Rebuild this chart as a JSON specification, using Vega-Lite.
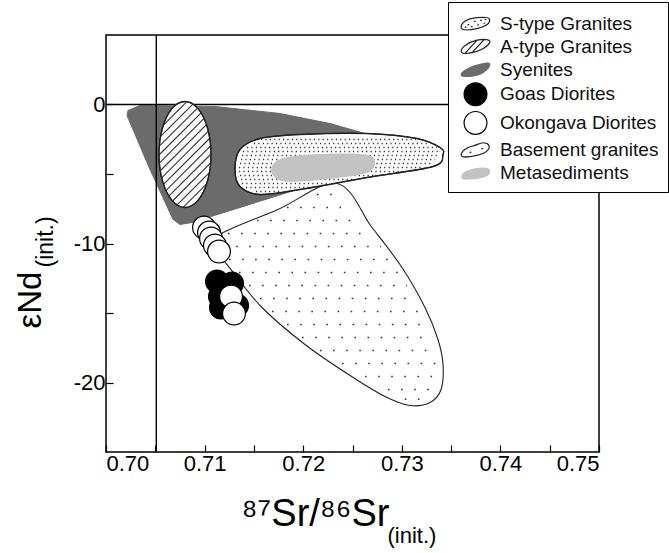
{
  "$schema": "https://vega.github.io/schema/vega-lite/v6.json",
  "width": 493,
  "height": 417,
  "autosize": "none",
  "padding": {"left": 106, "top": 35, "right": 70, "bottom": 101},
  "background": "white",
  "resolve": {"axis": {"x": "independent", "y": "independent"}},
  "datasets": {
    "syenite": [
      {"i": 1, "x": 0.70223, "y": -0.432}, {"i": 2, "x": 0.70345, "y": -0.072}, {"i": 3, "x": 0.71105, "y": -0.144},
      {"i": 4, "x": 0.71765, "y": -0.647}, {"i": 5, "x": 0.72272, "y": -1.367}, {"i": 6, "x": 0.72627, "y": -2.086},
      {"i": 7, "x": 0.7283, "y": -3.237}, {"i": 8, "x": 0.72576, "y": -4.317}, {"i": 9, "x": 0.72069, "y": -5.827},
      {"i": 10, "x": 0.71359, "y": -7.41}, {"i": 11, "x": 0.70872, "y": -8.489}, {"i": 12, "x": 0.70751, "y": -8.633},
      {"i": 13, "x": 0.7068, "y": -8.273}, {"i": 14, "x": 0.70446, "y": -4.676}, {"i": 15, "x": 0.70213, "y": -0.791}
    ],
    "atype": [
      {"i": 1, "x": 0.710649, "y": -3.597}, {"i": 2, "x": 0.710296, "y": -1.691}, {"i": 3, "x": 0.70933, "y": -0.295},
      {"i": 4, "x": 0.708012, "y": 0.216}, {"i": 5, "x": 0.706694, "y": -0.295}, {"i": 6, "x": 0.705728, "y": -1.691},
      {"i": 7, "x": 0.705375, "y": -3.597}, {"i": 8, "x": 0.705728, "y": -5.503}, {"i": 9, "x": 0.706694, "y": -6.899},
      {"i": 10, "x": 0.708012, "y": -7.41}, {"i": 11, "x": 0.70933, "y": -6.899}, {"i": 12, "x": 0.710296, "y": -5.503}
    ],
    "hatch": [
      {"x": 0.708201, "y": 0.206, "x2": 0.705816, "y2": -1.486},
      {"x": 0.708819, "y": 0.033, "x2": 0.705533, "y2": -2.298},
      {"x": 0.709279, "y": -0.253, "x2": 0.705408, "y2": -2.999},
      {"x": 0.709646, "y": -0.604, "x2": 0.705375, "y2": -3.633},
      {"x": 0.709945, "y": -1.003, "x2": 0.705411, "y2": -4.219},
      {"x": 0.710188, "y": -1.442, "x2": 0.705502, "y2": -4.766},
      {"x": 0.710379, "y": -1.918, "x2": 0.705645, "y2": -5.276},
      {"x": 0.710522, "y": -2.428, "x2": 0.705837, "y2": -5.752},
      {"x": 0.710614, "y": -2.975, "x2": 0.706079, "y2": -6.191},
      {"x": 0.710649, "y": -3.561, "x2": 0.706378, "y2": -6.591},
      {"x": 0.710617, "y": -4.196, "x2": 0.706745, "y2": -6.942},
      {"x": 0.710491, "y": -4.896, "x2": 0.707205, "y2": -7.227},
      {"x": 0.710208, "y": -5.709, "x2": 0.707823, "y2": -7.4}
    ],
    "stype": [
      {"i": 1, "x": 0.71308, "y": -4.676}, {"i": 2, "x": 0.71359, "y": -3.237}, {"i": 3, "x": 0.71562, "y": -2.446},
      {"i": 4, "x": 0.71968, "y": -2.158}, {"i": 5, "x": 0.72647, "y": -2.086}, {"i": 6, "x": 0.73154, "y": -2.446},
      {"i": 7, "x": 0.73387, "y": -3.094}, {"i": 8, "x": 0.73418, "y": -3.597}, {"i": 9, "x": 0.73316, "y": -4.46},
      {"i": 10, "x": 0.72647, "y": -5.252}, {"i": 11, "x": 0.71968, "y": -6.115}, {"i": 12, "x": 0.71562, "y": -6.475},
      {"i": 13, "x": 0.71359, "y": -5.899}
    ],
    "stipple": [
      {"x": 0.71572, "y": -2.518, "x2": 0.73154, "y2": -2.518},
      {"x": 0.71501, "y": -2.806, "x2": 0.73256, "y2": -2.806},
      {"x": 0.7143, "y": -3.094, "x2": 0.73357, "y2": -3.094},
      {"x": 0.71389, "y": -3.381, "x2": 0.73367, "y2": -3.381},
      {"x": 0.71379, "y": -3.669, "x2": 0.73367, "y2": -3.669},
      {"x": 0.71369, "y": -3.957, "x2": 0.73337, "y2": -3.957},
      {"x": 0.71359, "y": -4.245, "x2": 0.73306, "y2": -4.245},
      {"x": 0.71349, "y": -4.532, "x2": 0.73215, "y2": -4.532},
      {"x": 0.71349, "y": -4.82, "x2": 0.72982, "y2": -4.82},
      {"x": 0.71359, "y": -5.108, "x2": 0.72738, "y2": -5.108},
      {"x": 0.71369, "y": -5.396, "x2": 0.72495, "y2": -5.396},
      {"x": 0.71379, "y": -5.683, "x2": 0.72272, "y2": -5.683},
      {"x": 0.7142, "y": -5.971, "x2": 0.72049, "y2": -5.971},
      {"x": 0.71521, "y": -6.259, "x2": 0.71775, "y2": -6.259}
    ],
    "meta": [
      {"i": 1, "x": 0.71684, "y": -4.676}, {"i": 2, "x": 0.71785, "y": -3.957}, {"i": 3, "x": 0.72069, "y": -3.669},
      {"i": 4, "x": 0.72475, "y": -3.597}, {"i": 5, "x": 0.72677, "y": -3.741}, {"i": 6, "x": 0.72718, "y": -4.245},
      {"i": 7, "x": 0.72657, "y": -4.82}, {"i": 8, "x": 0.72373, "y": -5.18}, {"i": 9, "x": 0.71968, "y": -5.468},
      {"i": 10, "x": 0.71765, "y": -5.396}
    ],
    "basement": [
      {"i": 1, "x": 0.71136, "y": -9.424}, {"i": 2, "x": 0.71744, "y": -7.554}, {"i": 3, "x": 0.72343, "y": -5.683},
      {"i": 4, "x": 0.72698, "y": -8.849}, {"i": 5, "x": 0.73002, "y": -11.727}, {"i": 6, "x": 0.73235, "y": -14.604},
      {"i": 7, "x": 0.73367, "y": -16.906}, {"i": 8, "x": 0.73418, "y": -18.705}, {"i": 9, "x": 0.73398, "y": -20.504},
      {"i": 10, "x": 0.73286, "y": -21.439}, {"i": 11, "x": 0.73083, "y": -21.655}, {"i": 12, "x": 0.7283, "y": -21.007},
      {"i": 13, "x": 0.72475, "y": -19.496}, {"i": 14, "x": 0.72018, "y": -17.266}, {"i": 15, "x": 0.71582, "y": -14.604},
      {"i": 16, "x": 0.71308, "y": -12.23}, {"i": 17, "x": 0.71136, "y": -10.576}
    ],
    "bdots": [
      {"x": 0.7214, "y": -6.475, "x2": 0.72383, "y2": -6.475},
      {"x": 0.71836, "y": -7.41, "x2": 0.72485, "y2": -7.41},
      {"x": 0.71531, "y": -8.345, "x2": 0.72586, "y2": -8.345},
      {"x": 0.71237, "y": -9.281, "x2": 0.72688, "y2": -9.281},
      {"x": 0.71187, "y": -10.216, "x2": 0.72789, "y2": -10.216},
      {"x": 0.71247, "y": -11.151, "x2": 0.7289, "y2": -11.151},
      {"x": 0.71349, "y": -12.086, "x2": 0.72982, "y2": -12.086},
      {"x": 0.7145, "y": -13.022, "x2": 0.73053, "y2": -13.022},
      {"x": 0.71562, "y": -13.957, "x2": 0.73134, "y2": -13.957},
      {"x": 0.71684, "y": -14.892, "x2": 0.73205, "y2": -14.892},
      {"x": 0.71836, "y": -15.827, "x2": 0.73256, "y2": -15.827},
      {"x": 0.71988, "y": -16.763, "x2": 0.73306, "y2": -16.763},
      {"x": 0.7217, "y": -17.698, "x2": 0.73337, "y2": -17.698},
      {"x": 0.72394, "y": -18.633, "x2": 0.73367, "y2": -18.633},
      {"x": 0.72627, "y": -19.568, "x2": 0.73347, "y2": -19.568},
      {"x": 0.7286, "y": -20.504, "x2": 0.73327, "y2": -20.504},
      {"x": 0.7303, "y": -21.2, "x2": 0.73205, "y2": -21.2}
    ],
    "points": [
      {"group": "Goas Diorites", "x": 0.71126, "y": -12.73},
      {"group": "Goas Diorites", "x": 0.71278, "y": -12.88},
      {"group": "Goas Diorites", "x": 0.71217, "y": -13.3},
      {"group": "Goas Diorites", "x": 0.71156, "y": -13.81},
      {"group": "Goas Diorites", "x": 0.71329, "y": -14.46},
      {"group": "Goas Diorites", "x": 0.71166, "y": -14.6},
      {"group": "Okongava Diorites", "x": 0.70994, "y": -8.85},
      {"group": "Okongava Diorites", "x": 0.71045, "y": -9.21},
      {"group": "Okongava Diorites", "x": 0.71065, "y": -9.64},
      {"group": "Okongava Diorites", "x": 0.71105, "y": -10.14},
      {"group": "Okongava Diorites", "x": 0.71146, "y": -10.58},
      {"group": "Okongava Diorites", "x": 0.71268, "y": -13.81},
      {"group": "Okongava Diorites", "x": 0.71298, "y": -15.04}
    ],
    "refx": [{"x": 0.7051}],
    "refy": [{"y": 0}]
  },
  "layer": [
    {
      "data": {"name": "syenite"},
      "mark": {"type": "line", "interpolate": "linear-closed", "fill": "#6b6b6b", "stroke": "#6b6b6b", "strokeWidth": 1},
      "encoding": {
        "x": {"field": "x", "type": "quantitative",
          "scale": {"domain": [0.70, 0.75], "nice": false, "zero": false},
          "axis": {
            "orient": "bottom",
            "title": "⁸⁷Sr/⁸⁶Sr", "titleX": 135, "titleY": 73, "titleAlign": "left", "titleBaseline": "alphabetic", "titleFontSize": 38,
            "values": [0.70, 0.705, 0.71, 0.715, 0.72, 0.725, 0.73, 0.735, 0.74, 0.745, 0.75],
            "labelExpr": "round(datum.value*1000) % 10 == 0 ? format(datum.value, '.2f') : ''",
            "tickSize": -7, "labelPadding": 8, "labelFontSize": 22
          }
        },
        "y": {"field": "y", "type": "quantitative",
          "scale": {"domain": [-25, 5], "nice": false, "zero": false},
          "axis": {
            "orient": "left",
            "title": "εNd", "titleX": -66, "titleY": 293, "titleAngle": -90, "titleAlign": "left", "titleBaseline": "alphabetic", "titleFontSize": 33,
            "values": [-20, -15, -10, -5, 0],
            "labelExpr": "datum.value % 10 == 0 ? '' + datum.value : ''",
            "tickSize": -7, "labelPadding": 8, "labelFontSize": 22
          }
        },
        "order": {"field": "i", "type": "quantitative"}
      }
    },
    {
      "data": {"name": "refx"},
      "mark": {"type": "rule", "color": "black", "strokeWidth": 1.4},
      "encoding": {"x": {"field": "x", "type": "quantitative", "axis": null}}
    },
    {
      "data": {"name": "refy"},
      "mark": {"type": "rule", "color": "black", "strokeWidth": 1.4},
      "encoding": {"y": {"field": "y", "type": "quantitative", "axis": null}}
    },
    {
      "data": {"name": "basement"},
      "mark": {"type": "line", "interpolate": "cardinal-closed", "fill": "white", "stroke": "#222", "strokeWidth": 1.1},
      "encoding": {
        "x": {"field": "x", "type": "quantitative",
          "axis": {"orient": "bottom", "domain": false, "ticks": false, "labels": false,
            "title": "(init.)", "titleX": 281, "titleY": 90, "titleAlign": "left", "titleBaseline": "alphabetic", "titleFontSize": 22}
        },
        "y": {"field": "y", "type": "quantitative", "axis": null},
        "order": {"field": "i", "type": "quantitative"}
      }
    },
    {
      "data": {"name": "bdots"},
      "mark": {"type": "rule", "color": "#333", "strokeWidth": 1.6, "strokeDash": [1.6, 11.5]},
      "encoding": {
        "x": {"field": "x", "type": "quantitative", "axis": null},
        "y": {"field": "y", "type": "quantitative", "axis": null},
        "x2": {"field": "x2"},
        "y2": {"field": "y2"}
      }
    },
    {
      "data": {"name": "atype"},
      "mark": {"type": "line", "interpolate": "cardinal-closed", "fill": "white", "stroke": "#222", "strokeWidth": 1.1},
      "encoding": {
        "x": {"field": "x", "type": "quantitative", "axis": null},
        "y": {"field": "y", "type": "quantitative",
          "axis": {"orient": "left", "domain": false, "ticks": false, "labels": false,
            "title": "(init.)", "titleX": -54, "titleY": 232, "titleAngle": -90, "titleAlign": "left", "titleBaseline": "alphabetic", "titleFontSize": 23}
        },
        "order": {"field": "i", "type": "quantitative"}
      }
    },
    {
      "data": {"name": "hatch"},
      "mark": {"type": "rule", "color": "#333", "strokeWidth": 1.1},
      "encoding": {
        "x": {"field": "x", "type": "quantitative", "axis": null},
        "y": {"field": "y", "type": "quantitative", "axis": null},
        "x2": {"field": "x2"},
        "y2": {"field": "y2"}
      }
    },
    {
      "data": {"name": "atype"},
      "mark": {"type": "line", "interpolate": "cardinal-closed", "stroke": "#222", "strokeWidth": 1.3},
      "encoding": {
        "x": {"field": "x", "type": "quantitative", "axis": null},
        "y": {"field": "y", "type": "quantitative", "axis": null},
        "order": {"field": "i", "type": "quantitative"}
      }
    },
    {
      "data": {"name": "stype"},
      "mark": {"type": "line", "interpolate": "cardinal-closed", "fill": "white", "stroke": "#222", "strokeWidth": 1.1},
      "encoding": {
        "x": {"field": "x", "type": "quantitative", "axis": null},
        "y": {"field": "y", "type": "quantitative", "axis": null},
        "order": {"field": "i", "type": "quantitative"}
      }
    },
    {
      "data": {"name": "stipple"},
      "mark": {"type": "rule", "color": "#333", "strokeWidth": 1.3, "strokeDash": [1.2, 3.2]},
      "encoding": {
        "x": {"field": "x", "type": "quantitative", "axis": null},
        "y": {"field": "y", "type": "quantitative", "axis": null},
        "x2": {"field": "x2"},
        "y2": {"field": "y2"}
      }
    },
    {
      "data": {"name": "meta"},
      "mark": {"type": "line", "interpolate": "cardinal-closed", "fill": "#c2c2c2", "stroke": "#c2c2c2", "strokeWidth": 2},
      "encoding": {
        "x": {"field": "x", "type": "quantitative", "axis": null},
        "y": {"field": "y", "type": "quantitative", "axis": null},
        "order": {"field": "i", "type": "quantitative"}
      }
    },
    {
      "data": {"name": "stype"},
      "mark": {"type": "line", "interpolate": "cardinal-closed", "stroke": "#222", "strokeWidth": 1.4},
      "encoding": {
        "x": {"field": "x", "type": "quantitative", "axis": null},
        "y": {"field": "y", "type": "quantitative", "axis": null},
        "order": {"field": "i", "type": "quantitative"}
      }
    },
    {
      "data": {"name": "points"},
      "mark": {"type": "point", "filled": true, "opacity": 1, "strokeWidth": 1.2},
      "encoding": {
        "x": {"field": "x", "type": "quantitative", "axis": null},
        "y": {"field": "y", "type": "quantitative", "axis": null},
        "fill": {"field": "group", "type": "nominal",
          "scale": {
            "domain": ["S-type Granites", "A-type Granites", "Syenites", "Goas Diorites", "Okongava Diorites", "Basement granites", "Metasediments"],
            "range": ["white", "white", "#6b6b6b", "black", "white", "white", "#c2c2c2"]
          },
          "legend": {
            "title": null, "orient": "none", "legendX": 342, "legendY": -33,
            "padding": 9, "strokeColor": "black", "fillColor": "white",
            "labelFont": "Liberation Sans", "labelFontSize": 19, "labelColor": "#111",
            "rowPadding": -0.3, "symbolOffset": 6, "labelOffset": 12, "symbolStrokeWidth": 1.2
          }
        },
        "stroke": {"field": "group", "type": "nominal",
          "scale": {
            "domain": ["S-type Granites", "A-type Granites", "Syenites", "Goas Diorites", "Okongava Diorites", "Basement granites", "Metasediments"],
            "range": ["#222", "#222", "#6b6b6b", "black", "black", "#222", "#c2c2c2"]
          }
        },
        "shape": {"field": "group", "type": "nominal",
          "scale": {
            "domain": ["S-type Granites", "A-type Granites", "Syenites", "Goas Diorites", "Okongava Diorites", "Basement granites", "Metasediments"],
            "range": [
              "M-1.25,0.4C-1.35,-0.05 -0.7,-0.45 0,-0.5C0.65,-0.55 1.3,-0.62 1.25,-0.22C1.18,0.12 0.65,0.33 0.12,0.45C-0.4,0.56 -1.12,0.66 -1.25,0.4Z M-0.7,0.1h0.15 M-0.15,-0.18h0.15 M0.4,-0.28h0.15 M0.8,-0.35h0.15 M-0.4,0.28h0.15 M0.15,0.12h0.15 M-0.95,0.32h0.15 M0.7,-0.02h0.15",
              "M-1.25,0.45C-1.3,0.12 -0.65,-0.38 0.12,-0.56C0.8,-0.7 1.38,-0.62 1.25,-0.34C1.12,-0.06 0.52,0.34 -0.13,0.5C-0.65,0.63 -1.18,0.68 -1.25,0.45Z M-0.9,0.58L0.12,-0.53 M-0.25,0.47L0.78,-0.62",
              "M-1.25,0.5C-1.25,0.22 -0.65,-0.12 0,-0.34C0.52,-0.5 1.18,-0.68 1.25,-0.5C1.3,-0.22 0.78,0.34 0.13,0.5C-0.4,0.62 -1.25,0.68 -1.25,0.5Z",
              "circle",
              "circle",
              "M-1.25,0.5C-1.3,0.12 -0.78,-0.22 -0.26,-0.34C0.13,-0.4 0.4,-0.68 0.78,-0.62C1.24,-0.56 1.3,-0.22 1.1,0C0.9,0.28 0.52,0.4 0,0.5C-0.52,0.62 -1.18,0.68 -1.25,0.5Z M-0.52,0.22h0.15 M0.52,-0.12h0.15",
              "M-1.18,0.45C-1.3,0 -0.65,-0.28 0.26,-0.4C0.9,-0.48 1.3,-0.4 1.24,-0.06C1.18,0.28 0.52,0.45 -0.13,0.5C-0.65,0.56 -1.1,0.62 -1.18,0.45Z"
            ]
          }
        },
        "size": {"field": "group", "type": "nominal",
          "scale": {
            "domain": ["S-type Granites", "A-type Granites", "Syenites", "Goas Diorites", "Okongava Diorites", "Basement granites", "Metasediments"],
            "range": [520, 520, 520, 95, 95, 520, 520]
          }
        }
      }
    }
  ],
  "config": {
    "view": {"stroke": "black", "strokeWidth": 1.5},
    "axis": {
      "grid": false, "domain": false, "tickColor": "black", "tickWidth": 1.2,
      "labelColor": "black", "titleColor": "black", "titleFontWeight": "normal",
      "labelFont": "Liberation Sans", "titleFont": "Liberation Sans"
    }
  }
}
